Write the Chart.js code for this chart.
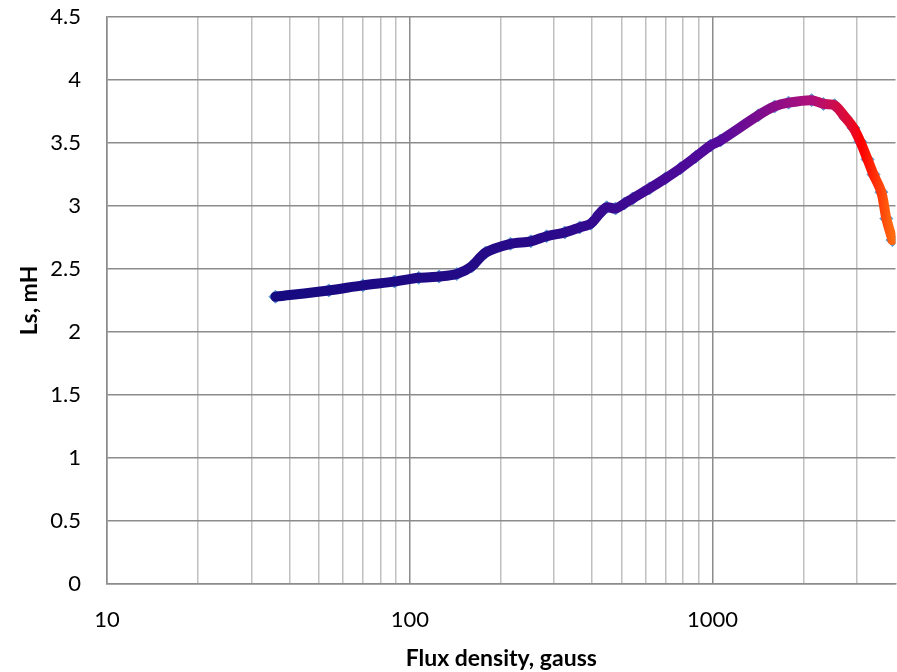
<!DOCTYPE html>
<html>
<head>
<meta charset="utf-8">
<script src="https://cdn.jsdelivr.net/npm/chart.js@4/dist/chart.umd.min.js"></script>
<style>
  html, body { margin: 0; padding: 0; background: #fff; overflow: hidden; }
  #wrap { width: 903px; height: 672px; }
</style>
</head>
<body>
<div id="wrap"><canvas id="lsChart"></canvas></div>
<script>
// flux density (gauss) and series inductance (mH)
const fluxGauss = [36, 54, 70, 89, 107, 125, 143, 160, 178, 215, 251, 283, 325, 364, 396, 424, 447, 478, 512, 545, 620, 700, 784, 880, 985, 1062, 1418, 1603, 1782, 2124, 2325, 2528, 2750, 2919, 3077, 3250, 3400, 3610, 3750, 3928];
const lsMilliHenry = [2.28, 2.33, 2.37, 2.40, 2.43, 2.44, 2.46, 2.52, 2.63, 2.70, 2.72, 2.76, 2.79, 2.83, 2.86, 2.94, 2.99, 2.98, 3.02, 3.06, 3.14, 3.22, 3.30, 3.39, 3.48, 3.52, 3.72, 3.79, 3.82, 3.84, 3.81, 3.80, 3.70, 3.62, 3.51, 3.37, 3.25, 3.11, 2.90, 2.73];

const xGridValues = [10, 20, 30, 40, 50, 60, 70, 80, 90, 100, 200, 300, 400, 500, 600, 700, 800, 900, 1000, 2000, 3000];
const xTickLabels = [10, 100, 1000];

const points = fluxGauss.map((x, i) => ({ x: x, y: lsMilliHenry[i] }));
const labelFont = { family: 'Lato', size: 22 };
const titleFont = { family: 'Lato', size: 23, weight: 'bold' };

// gradient along the curve, navy -> violet -> magenta -> red -> orange
function lineGradient(context) {
    const chart = context.chart;
    const area = chart.chartArea;
    if (!area) return '#1a0a88';
    const xs = chart.scales.x;
    const x0 = xs.getPixelForValue(fluxGauss[0]);
    const x1 = xs.getPixelForValue(fluxGauss[fluxGauss.length - 1]);
    const g = chart.ctx.createLinearGradient(x0, 0, x1, 0);
    g.addColorStop(0, '#160a80');
    g.addColorStop(0.45, '#2a0a8a');
    g.addColorStop(0.72, '#560a9c');
    g.addColorStop(0.87, '#b0107a');
    g.addColorStop(0.93, '#e00a30');
    g.addColorStop(0.95, '#ff0000');
    g.addColorStop(1, '#ff6a10');
    return g;
}

new Chart(document.getElementById('lsChart'), {
    type: 'scatter',
    data: {
        datasets: [
            {
                label: 'markers',
                data: points,
                showLine: false,
                pointStyle: 'rectRot',
                pointRadius: 6.5,
                pointBackgroundColor: '#5b9bd5',
                pointBorderColor: '#5b9bd5',
                pointBorderWidth: 1,
                order: 2
            },
            {
                label: 'Ls',
                data: points,
                showLine: true,
                borderColor: lineGradient,
                borderWidth: 10,
                borderCapStyle: 'round',
                borderJoinStyle: 'round',
                tension: 0.3,
                pointRadius: 0,
                order: 1
            }
        ]
    },
    options: {
        responsive: true,
        maintainAspectRatio: false,
        animation: false,
        layout: { padding: { top: 17, right: 0, left: 0, bottom: 0 } },
        plugins: {
            legend: { display: false },
            tooltip: { enabled: false }
        },
        scales: {
            x: {
                type: 'logarithmic',
                min: 10,
                max: 4020,
                afterBuildTicks: (scale) => {
                    scale.ticks = xGridValues.map(v => ({ value: v }));
                },
                afterFit: (scale) => {
                    scale.height = 88;
                    scale.paddingLeft = 0;
                    scale.paddingRight = 0;
                },
                ticks: {
                    autoSkip: false,
                    maxRotation: 0,
                    padding: 23,
                    color: '#000',
                    font: labelFont,
                    callback: (v) => xTickLabels.includes(v) ? String(v) : ''
                },
                grid: {
                    drawTicks: false,
                    color: (ctx) => xTickLabels.includes(ctx.tick && ctx.tick.value) ? '#8c8c8c' : '#c0c0c0',
                    lineWidth: 1.5
                },
                border: { color: '#8c8c8c', width: 1.5 },
                title: {
                    display: true,
                    text: 'Flux density, gauss',
                    color: '#000',
                    font: titleFont,
                    padding: { top: 0, bottom: 0 }
                }
            },
            y: {
                min: 0,
                max: 4.5,
                afterFit: (scale) => {
                    scale.width = 107;
                    scale.paddingTop = 0;
                    scale.paddingBottom = 0;
                },
                ticks: {
                    stepSize: 0.5,
                    padding: 26,
                    color: '#000',
                    font: labelFont,
                    callback: (v) => String(v)
                },
                grid: { drawTicks: false, color: '#8c8c8c', lineWidth: 1.5 },
                border: { color: '#8c8c8c', width: 1.5 },
                title: {
                    display: true,
                    text: 'Ls, mH',
                    color: '#000',
                    font: titleFont,
                    padding: { top: 16, bottom: 0 }
                }
            }
        }
    }
});
</script>
</body>
</html>
